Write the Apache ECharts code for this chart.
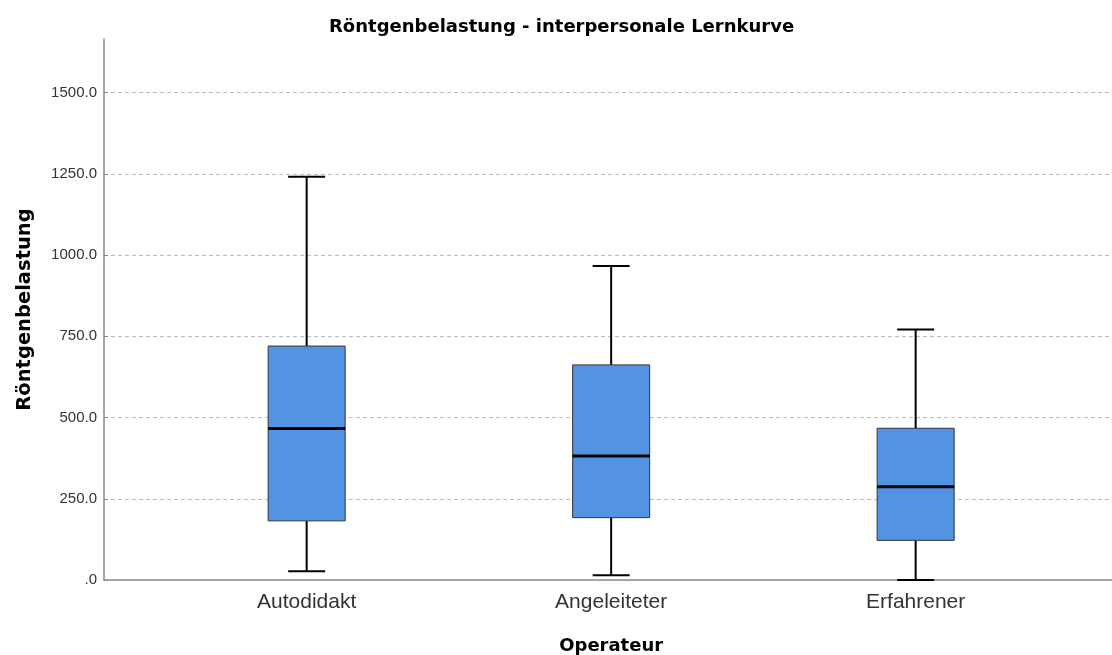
<!DOCTYPE html>
<html>
<head>
<meta charset="utf-8">
<title>Röntgenbelastung - interpersonale Lernkurve</title>
<script src="https://cdn.jsdelivr.net/npm/echarts@6/dist/echarts.min.js"></script>
<style>
  html, body { margin: 0; padding: 0; background: #fff; }
  #chart { width: 1112px; height: 655px; }
</style>
</head>
<body>
<div id="chart"></div>
<script>
// Operator groups on the x axis
const categories = ['Autodidakt', 'Angeleiteter', 'Erfahrener'];
// Box statistics per group: [lower whisker, Q1, median, Q3, upper whisker]
const whiskerLow  = [27, 15, 0];
const quartile1   = [182, 192, 122];
const medians     = [466, 382, 287];
const quartile3   = [720, 662, 467];
const whiskerHigh = [1241, 966, 771];
// Value axis ticks
const yTicks = [0, 250, 500, 750, 1000, 1250, 1500];
const yMax = 1665;

const FONT = '"Liberation Sans", Arial, sans-serif';
const BOLD_FONT = '"DejaVu Sans", "Liberation Sans", Arial, sans-serif';

const boxData = categories.map((c, i) => [i, whiskerLow[i], quartile1[i], medians[i], quartile3[i], whiskerHigh[i]]);

const chart = echarts.init(document.getElementById('chart'), null, { renderer: 'canvas' });

function renderBox(params, api) {
  const idx = api.value(0);
  const lo = api.coord([idx, api.value(1)]);
  const q1 = api.coord([idx, api.value(2)]);
  const md = api.coord([idx, api.value(3)]);
  const q3 = api.coord([idx, api.value(4)]);
  const hi = api.coord([idx, api.value(5)]);
  const band = api.size([1, 0])[0];
  const boxW = band * 0.253;
  const capW = boxW * 0.48;
  const x = lo[0];
  return {
    type: 'group',
    children: [
      { type: 'line', shape: { x1: x, y1: q3[1], x2: x, y2: hi[1] }, style: { stroke: '#000', lineWidth: 2 } },
      { type: 'line', shape: { x1: x, y1: q1[1], x2: x, y2: lo[1] }, style: { stroke: '#000', lineWidth: 2 } },
      { type: 'line', shape: { x1: x - capW / 2, y1: hi[1], x2: x + capW / 2, y2: hi[1] }, style: { stroke: '#000', lineWidth: 2 } },
      { type: 'line', shape: { x1: x - capW / 2, y1: lo[1], x2: x + capW / 2, y2: lo[1] }, style: { stroke: '#000', lineWidth: 2 } },
      { type: 'rect', shape: { x: x - boxW / 2, y: q3[1], width: boxW, height: q1[1] - q3[1] },
        style: { fill: '#5294e2', stroke: '#333', lineWidth: 1 } },
      { type: 'line', shape: { x1: x - boxW / 2, y1: md[1], x2: x + boxW / 2, y2: md[1] }, style: { stroke: '#000', lineWidth: 3 } }
    ]
  };
}

const option = {
  backgroundColor: '#fff',
  animation: false,
  title: {
    text: 'Röntgenbelastung - interpersonale Lernkurve',
    left: 324,
    top: 13,
    textStyle: { fontFamily: BOLD_FONT, fontSize: 18, fontWeight: 'bold', color: '#000' }
  },
  grid: [
    // frame: value axis, gridlines and baseline
    { left: 104, right: 0, top: 39, bottom: 75, outerBoundsMode: 'none' },
    // plotting band for the boxes
    { left: 154.4, width: 913.5, top: 39, bottom: 75, outerBoundsMode: 'none' }
  ],
  xAxis: [
    {
      type: 'value', gridIndex: 0, min: 0, max: 1,
      axisLine: { show: true, lineStyle: { color: '#888', width: 1.5 } },
      axisTick: { show: false }, axisLabel: { show: false }, splitLine: { show: false }
    },
    {
      type: 'category', gridIndex: 1, data: categories,
      axisLine: { show: false }, axisTick: { show: false }, splitLine: { show: false },
      axisLabel: { fontFamily: FONT, fontSize: 21, color: '#333', margin: 12 },
      name: 'Operateur', nameLocation: 'middle', nameGap: 57,
      nameTextStyle: { fontFamily: BOLD_FONT, fontSize: 18, fontWeight: 'bold', color: '#000' }
    }
  ],
  yAxis: [
    {
      type: 'value', gridIndex: 0, min: 0, max: yMax, interval: 250,
      axisLine: { show: true, lineStyle: { color: '#888', width: 1.5 } },
      axisTick: { show: true, inside: true, length: 4, lineStyle: { color: '#888' }, customValues: yTicks },
      axisLabel: {
        fontFamily: FONT, fontSize: 15, color: '#333', margin: 7,
        customValues: yTicks,
        formatter: v => (v === 0 ? '.0' : v.toFixed(1))
      },
      splitLine: { show: true, showMinLine: false,
        lineStyle: { color: '#bdbdbd', type: [4, 3], width: 1 } },
      name: 'Röntgenbelastung', nameLocation: 'middle', nameGap: 69, nameRotate: 90,
      nameTextStyle: { fontFamily: BOLD_FONT, fontSize: 19.5, fontWeight: 'bold', color: '#000' }
    },
    {
      type: 'value', gridIndex: 1, min: 0, max: yMax, interval: 250,
      show: false
    }
  ],
  series: [
    {
      type: 'custom',
      xAxisIndex: 1, yAxisIndex: 1,
      data: boxData,
      encode: { x: 0, y: [1, 2, 3, 4, 5] },
      renderItem: renderBox,
      clip: false
    }
  ]
};

chart.setOption(option);
</script>
</body>
</html>
